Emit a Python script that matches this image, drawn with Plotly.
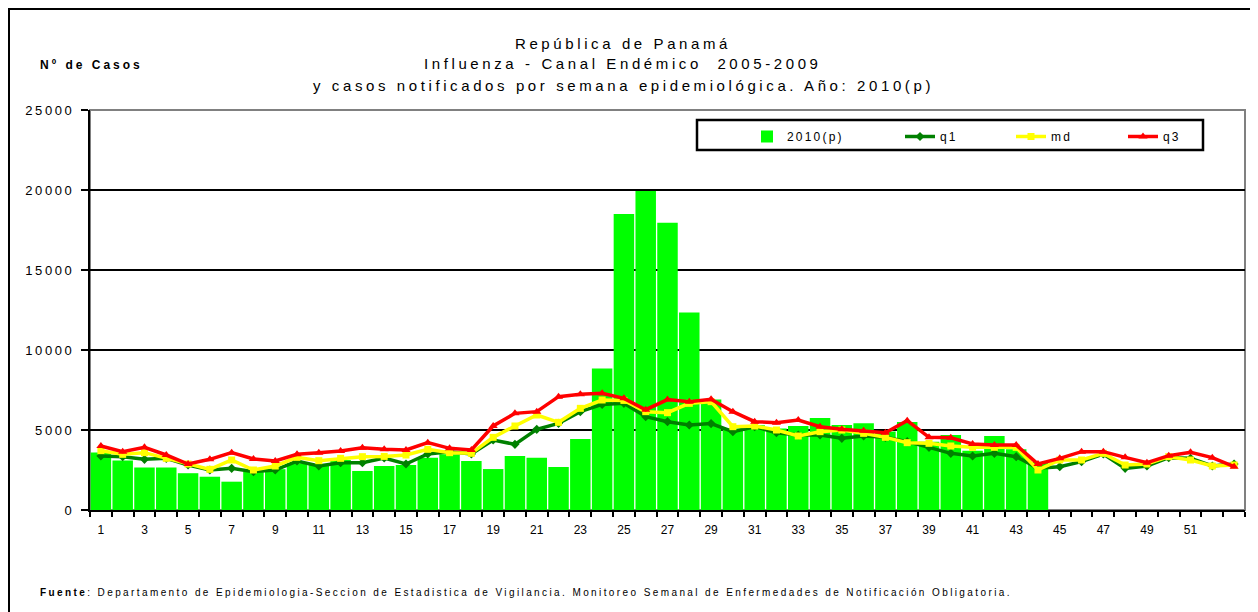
import plotly.graph_objects as go

weeks = list(range(1, 54))
cases_2010 = [3600, 3100, 2650, 2650, 2300, 2080, 1770, 2400, 2550, 2920,
              2810, 3120, 2440, 2750, 2810, 3270, 3480, 3060, 2560, 3380,
              3270, 2690, 4440, 8850, 18500, 19940, 17960, 12350, 6900, 5100,
              5300, 5100, 5250, 5750, 5310, 5420, 4900, 5500, 4270, 4690,
              3710, 4620, 3790, 3000]
q1 = [3375, 3333, 3167, 3229, 2812, 2500, 2604, 2396, 2500, 3062,
      2750, 2958, 2958, 3250, 2875, 3500, 3646, 3500, 4375, 4104,
      5041, 5417, 6146, 6600, 6666, 5833, 5521, 5312, 5400, 4896,
      5208, 4833, 4687, 4687, 4479, 4625, 4541, 4271, 3917, 3541,
      3375, 3541, 3333, 2604, 2708, 3021, 3500, 2604, 2750, 3271,
      3229, 2750, 2875]
md = [3708, 3479, 3583, 3229, 2875, 2541, 3125, 2500, 2750, 3291,
      3083, 3229, 3333, 3350, 3437, 3792, 3583, 3541, 4541, 5250,
      5937, 5479, 6354, 6875, 6850, 6146, 6083, 6666, 6771, 5208,
      5250, 5000, 4625, 4896, 5000, 4792, 4541, 4208, 4167, 4000,
      3917, 3917, 3917, 2500, 3125, 3125, 3541, 2812, 2875, 3333,
      3125, 2750, 2812]
q3 = [4000, 3646, 3917, 3437, 2875, 3167, 3583, 3187, 3062, 3479,
      3583, 3687, 3896, 3792, 3750, 4208, 3854, 3750, 5250, 6041,
      6146, 7083, 7229, 7291, 6979, 6270, 6900, 6771, 6916, 6146,
      5521, 5458, 5625, 5208, 5041, 4958, 4833, 5583, 4541, 4510,
      4125, 4062, 4062, 2875, 3229, 3646, 3646, 3291, 2958, 3396,
      3604, 3271, 2708]
x_tick_labels = [str(w) for w in range(1, 52, 2)]
y_tick_vals = [0, 5000, 10000, 15000, 20000, 25000]

FONT = "Liberation Sans, Arial, sans-serif"


def sp(text, ls):
    return f'<span style="letter-spacing:{ls}px">{text}</span>'


# page offset of the plot div (browser body margin)
OFF = 8
W, H = 1250, 604
L, T = 90 - OFF, 110 - OFF
R = W - (1245 - OFF)
B = H - (510 - OFF)
pw, ph = W - L - R, H - T - B


def fx(page_x):
    return (page_x - OFF - L) / pw


def fy(page_y):
    return (H - B - (page_y - OFF)) / ph


fig = go.Figure()
fig.add_trace(go.Bar(x=weeks[:len(cases_2010)], y=cases_2010, name=sp("2010(p)", 2.2),
                     marker=dict(color="#00FF00", line=dict(width=0)), legend="legend"))
fig.add_trace(go.Scatter(x=weeks, y=q1, name=sp("q1", 2.2), mode="lines+markers",
                         line=dict(color="#008000", width=3.5),
                         marker=dict(symbol="diamond", size=7, color="#008000"), legend="legend2"))
fig.add_trace(go.Scatter(x=weeks, y=md, name=sp("md", 2.2), mode="lines+markers",
                         line=dict(color="#FFFF00", width=3.5),
                         marker=dict(symbol="square", size=7, color="#FFFF00"), legend="legend3"))
fig.add_trace(go.Scatter(x=weeks, y=q3, name=sp("q3", 2.2), mode="lines+markers",
                         line=dict(color="#FF0000", width=3.5),
                         marker=dict(symbol="triangle-up", size=8, color="#FF0000"), legend="legend4"))


def leg(page_text_x):
    return dict(orientation="h", x=fx(page_text_x - 40), y=fy(122), xanchor="left", yanchor="top",
                bgcolor="rgba(0,0,0,0)", borderwidth=0, font=dict(family=FONT, size=12))


fig.update_layout(
    width=W, height=H,
    margin=dict(l=L, r=R, t=T, b=B, autoexpand=False),
    paper_bgcolor="white", plot_bgcolor="white",
    font=dict(family=FONT, size=12, color="black"),
    bargap=0.06,
    showlegend=True,
    legend=leg(787), legend2=leg(940), legend3=leg(1051), legend4=leg(1163),
    xaxis=dict(range=[0.5, 53.5], tickmode="array", tickvals=list(range(1, 52, 2)),
               ticktext=x_tick_labels, ticks="", showgrid=False, zeroline=False,
               showline=True, linecolor="black", linewidth=2,
               ticklabelstandoff=8,
               tickfont=dict(family=FONT, size=12),
               minor=dict(tickmode="linear", tick0=0.5, dtick=1, ticks="outside",
                          ticklen=5, tickcolor="black", tickwidth=2, showgrid=False)),
    yaxis=dict(range=[0, 25000], tickmode="array", tickvals=y_tick_vals,
               ticktext=[sp(str(v), 2.6) for v in y_tick_vals],
               ticks="outside", ticklen=7, tickwidth=2, tickcolor="black",
               ticklabelstandoff=4,
               showgrid=True, gridcolor="black", gridwidth=1.5, zeroline=False,
               showline=True, linecolor="black", linewidth=2,
               tickfont=dict(family=FONT, size=13)),
)

shapes = [
    # outer chart frame
    dict(type="rect", xref="paper", yref="paper", x0=fx(9), x1=fx(1290), y0=fy(660), y1=fy(9),
         line=dict(color="black", width=2), fillcolor="rgba(0,0,0,0)", layer="below"),
    # plot area border
    dict(type="rect", xref="paper", yref="paper", x0=0, x1=1, y0=0, y1=1,
         line=dict(color="#808080", width=2), fillcolor="rgba(0,0,0,0)", layer="below"),
    # legend box
    dict(type="rect", xref="paper", yref="paper", x0=fx(697), x1=fx(1203), y0=fy(150), y1=fy(120),
         line=dict(color="black", width=2.5), fillcolor="white", layer="above"),
]
fig.update_layout(shapes=shapes)

title_lines = [
    ("República de Panamá", 43),
    ("Influenza - Canal Endémico  2005-2009", 63),
    ("y casos notificados por semana epidemiológica. Año: 2010(p)", 85),
]
anns = []
for text, yy in title_lines:
    anns.append(dict(text=sp(text, 3.6), x=fx(623), y=fy(yy), xref="paper", yref="paper",
                     xanchor="center", yanchor="middle", showarrow=False,
                     font=dict(family=FONT, size=15, color="black")))
anns.append(dict(text=sp("<b>Nº de Casos</b>", 3.0), x=fx(38), y=fy(65), xref="paper", yref="paper",
                 xanchor="left", yanchor="middle", showarrow=False,
                 font=dict(family=FONT, size=12, color="black")))
anns.append(dict(text=sp("<b>Fuente</b>: Departamento de Epidemiologia-Seccion de Estadistica de Vigilancia. "
                         "Monitoreo Semanal de Enfermedades de Notificación Obligatoria.", 2.4),
                 x=fx(38), y=fy(592), xref="paper", yref="paper",
                 xanchor="left", yanchor="middle", showarrow=False,
                 font=dict(family=FONT, size=10, color="black")))
fig.update_layout(annotations=anns)

fig.write_html("out.html")
